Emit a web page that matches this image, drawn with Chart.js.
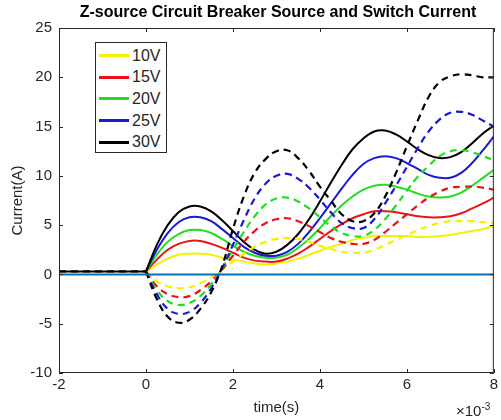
<!DOCTYPE html>
<html>
<head>
<meta charset="utf-8">
<script src="https://cdn.jsdelivr.net/npm/chart.js@4.4.0/dist/chart.umd.min.js"></script>
<style>
  html, body { margin: 0; padding: 0; background: #fff; }
  #wrap { position: relative; width: 501px; height: 420px; font-family: "Liberation Sans", Arial, sans-serif; color: #262626; }
  #titulo { position: absolute; left: 59px; width: 438px; top: 3px; text-align: center; font-weight: bold; font-size: 16px; color: #000; }
  #legenda { position: absolute; left: 95px; top: 42px; width: 72px; height: 111px; border: 1px solid #262626; background: #fff; box-sizing: border-box; padding-top: 2px; }
  .leg-row { height: 21.6px; display: flex; align-items: center; font-size: 16px; }
  .leg-row span.amostra { display: inline-block; width: 30px; height: 3px; margin-left: 3px; margin-right: 3px; }
  #expo { position: absolute; left: 456px; top: 401px; font-size: 15px; }
  #expo sup { font-size: 10px; }
</style>
</head>
<body>
<div id="wrap">
  <canvas id="grafico" width="501" height="420"></canvas>
  <div id="titulo">Z-source Circuit Breaker Source and Switch Current</div>
  <div id="legenda"></div>
  <div id="expo">&times;10<sup>-3</sup></div>
</div>
<script>
// tempo em ms (eixo mostra x10^-3 s)
const tempos = [0, 0.25, 0.5, 0.75, 1, 1.25, 1.5, 1.75, 2, 2.25, 2.5, 2.75, 3, 3.25, 3.5, 3.75, 4,
  4.25, 4.5, 4.75, 5, 5.25, 5.5, 5.75, 6, 6.25, 6.5, 6.75, 7, 7.25, 7.5, 7.75, 8];

const tensoes = ['10V', '15V', '20V', '25V', '30V'];
const cores = ['#F2F200', '#E8141A', '#22DD22', '#1A1AD0', '#000000'];

// antes do disparo todas as correntes ficam em ~0.3 A
const antesX = [-2, 0];
const antesY = [0.3, 0.3];

// corrente da fonte (linhas cheias)
const fonte10 = [0.3, 1.0, 1.6, 2.0, 2.1, 2.1, 2.0, 1.7, 1.5, 1.3, 1.1, 1.0, 1.1, 1.3, 1.6, 2.0, 2.4,
  2.8, 3.1, 3.5, 3.7, 3.9, 3.9, 3.9, 3.9, 3.8, 3.8, 3.9, 4.0, 4.2, 4.4, 4.6, 4.9];
const fonte15 = [0.3, 1.5, 2.5, 3.1, 3.4, 3.4, 3.1, 2.7, 2.2, 1.7, 1.4, 1.3, 1.3, 1.6, 2.1, 2.8, 3.6,
  4.4, 5.1, 5.7, 6.1, 6.4, 6.4, 6.3, 6.1, 5.9, 5.8, 5.8, 5.9, 6.2, 6.7, 7.2, 7.8];
const fonte20 = [0.3, 2.0, 3.3, 4.1, 4.5, 4.5, 4.2, 3.6, 2.9, 2.3, 1.9, 1.7, 1.7, 2.0, 2.7, 3.6, 4.7,
  5.9, 7.0, 7.9, 8.6, 9.0, 9.1, 8.9, 8.6, 8.2, 7.9, 7.8, 7.9, 8.3, 9.0, 9.8, 10.6];
const fonte25 = [0.3, 2.5, 4.2, 5.3, 5.8, 5.8, 5.4, 4.6, 3.7, 2.8, 2.2, 1.9, 1.9, 2.3, 3.1, 4.3, 5.7,
  7.2, 8.7, 10.1, 11.2, 11.8, 12.0, 11.8, 11.3, 10.7, 10.1, 9.8, 9.8, 10.3, 11.3, 12.6, 14.0];
const fonte30 = [0.3, 3.0, 5.0, 6.3, 6.9, 6.9, 6.4, 5.5, 4.4, 3.3, 2.5, 2.1, 2.3, 3.0, 4.1, 5.6, 7.4,
  9.3, 11.1, 12.7, 13.8, 14.5, 14.6, 14.2, 13.5, 12.7, 12.1, 11.8, 11.9, 12.4, 13.3, 14.3, 15.1];

// corrente da chave (linhas tracejadas)
const chave10 = [0.3, -0.7, -1.2, -1.4, -1.3, -0.9, -0.3, 0.5, 1.3, 2.1, 2.8, 3.3, 3.6, 3.7, 3.6, 3.3, 2.9,
  2.6, 2.3, 2.2, 2.2, 2.5, 3.0, 3.5, 4.0, 4.5, 4.9, 5.2, 5.4, 5.4, 5.4, 5.3, 5.2];
const chave15 = [0.3, -1.2, -2.0, -2.3, -2.2, -1.6, -0.7, 0.5, 1.9, 3.3, 4.4, 5.2, 5.6, 5.7, 5.4, 4.9, 4.3,
  3.7, 3.3, 3.1, 3.1, 3.5, 4.3, 5.2, 6.1, 7.0, 7.8, 8.4, 8.8, 8.9, 8.9, 8.8, 8.6];
const chave20 = [0.3, -1.6, -2.7, -3.1, -2.9, -2.2, -1.0, 0.6, 2.5, 4.3, 5.9, 7.1, 7.7, 7.8, 7.4, 6.7, 5.8,
  4.9, 4.2, 3.9, 3.9, 4.5, 5.6, 7.0, 8.5, 9.9, 11.0, 12.0, 12.5, 12.6, 12.4, 12.0, 11.6];
const chave25 = [0.3, -2.0, -3.5, -4.0, -3.8, -2.9, -1.4, 0.6, 3.0, 5.5, 7.7, 9.2, 10.0, 10.2, 9.7, 8.8, 7.6,
  6.3, 5.2, 4.7, 4.7, 5.6, 7.2, 9.0, 10.9, 12.8, 14.5, 15.7, 16.4, 16.5, 16.2, 15.6, 15.0];
const chave30 = [0.3, -2.5, -4.3, -4.9, -4.6, -3.5, -1.8, 0.8, 4.6, 7.9, 10.3, 11.7, 12.5, 12.6, 11.8, 10.5, 8.9,
  7.5, 6.1, 5.4, 5.4, 6.2, 7.9, 10.3, 13.0, 15.6, 18.0, 19.5, 20.1, 20.3, 20.2, 20.0, 20.0];

// linha de referência em zero
const zeroX = [-2, 8];
const zeroY = [0, 0];

const fontes = [fonte10, fonte15, fonte20, fonte25, fonte30];
const chaves = [chave10, chave15, chave20, chave25, chave30];

function pontos(xs, ys) {
  return xs.map((x, i) => ({ x: x, y: ys[i] }));
}

// ── Datasets ───────────────────────────────────────────────────
const datasets = [];
fontes.forEach((serie, i) => {
  datasets.push({
    label: tensoes[i], data: pontos(tempos, serie), borderColor: cores[i],
    borderWidth: 2, pointRadius: 0, tension: 0.4, order: 20 - i
  });
});
chaves.forEach((serie, i) => {
  datasets.push({
    label: tensoes[i] + ' chave', data: pontos(tempos, serie), borderColor: cores[i],
    borderWidth: 2.2, borderDash: [7, 5], pointRadius: 0, tension: 0.4, order: 10 - i
  });
});
datasets.push({ label: 'antes', data: pontos(antesX, antesY), borderColor: '#000', borderWidth: 2, pointRadius: 0, order: 3 });
datasets.push({ label: 'antes chave', data: pontos(antesX, antesY), borderColor: '#000', borderWidth: 2.2, borderDash: [7, 5], pointRadius: 0, order: 2 });
datasets.push({
  label: 'zero', data: pontos(zeroX, zeroY), borderColor: '#0072BD',
  borderWidth: 2, pointRadius: 0, order: 0
});

// ── Moldura e marcas para dentro (estilo MATLAB) ───────────────
const moldura = {
  id: 'moldura',
  afterDatasetsDraw(chart) {
    const { ctx, chartArea: a, scales: { x, y } } = chart;
    ctx.save();
    ctx.strokeStyle = '#262626';
    ctx.lineWidth = 1;
    ctx.strokeRect(a.left + 0.5, a.top + 0.5, a.right - a.left - 1, a.bottom - a.top - 1);
    ctx.beginPath();
    x.ticks.forEach(t => {
      const px = Math.round(x.getPixelForValue(t.value)) + 0.5;
      ctx.moveTo(px, a.bottom); ctx.lineTo(px, a.bottom - 4);
      ctx.moveTo(px, a.top); ctx.lineTo(px, a.top + 4);
    });
    y.ticks.forEach(t => {
      const py = Math.round(y.getPixelForValue(t.value)) + 0.5;
      ctx.moveTo(a.left, py); ctx.lineTo(a.left + 4, py);
      ctx.moveTo(a.right, py); ctx.lineTo(a.right - 4, py);
    });
    ctx.stroke();
    ctx.restore();
  }
};

const fonteEixo = { family: '"Liberation Sans", Arial, sans-serif', size: 15 };

new Chart(document.getElementById('grafico').getContext('2d'), {
  type: 'line',
  data: { datasets },
  options: {
    responsive: false, animation: false,
    layout: { padding: { top: 28, right: 0, left: 0, bottom: 0 } },
    plugins: { legend: { display: false }, tooltip: { enabled: false }, title: { display: false } },
    scales: {
      x: {
        type: 'linear', min: -2, max: 8,
        ticks: { stepSize: 2, color: '#262626', font: fonteEixo, padding: 3, maxRotation: 0 },
        grid: { display: false, drawTicks: false },
        border: { display: false },
        title: { display: true, text: 'time(s)', color: '#262626', font: fonteEixo, padding: { top: 2, bottom: 3 } },
        afterFit(s) { s.height = 47; }
      },
      y: {
        min: -10, max: 25,
        ticks: { stepSize: 5, color: '#262626', font: fonteEixo, padding: 7 },
        grid: { display: false, drawTicks: false },
        border: { display: false },
        title: { display: true, text: 'Current(A)', color: '#262626', font: fonteEixo, padding: { top: 9, bottom: 4 } },
        afterFit(s) { s.width = 59; }
      }
    }
  },
  plugins: [moldura]
});

// ── Legenda (só as linhas cheias) ─────────────────────────────
document.getElementById('legenda').innerHTML = tensoes.map((t, i) =>
  `<div class="leg-row"><span class="amostra" style="background:${cores[i]}"></span>${t}</div>`
).join('');
</script>
</body>
</html>
